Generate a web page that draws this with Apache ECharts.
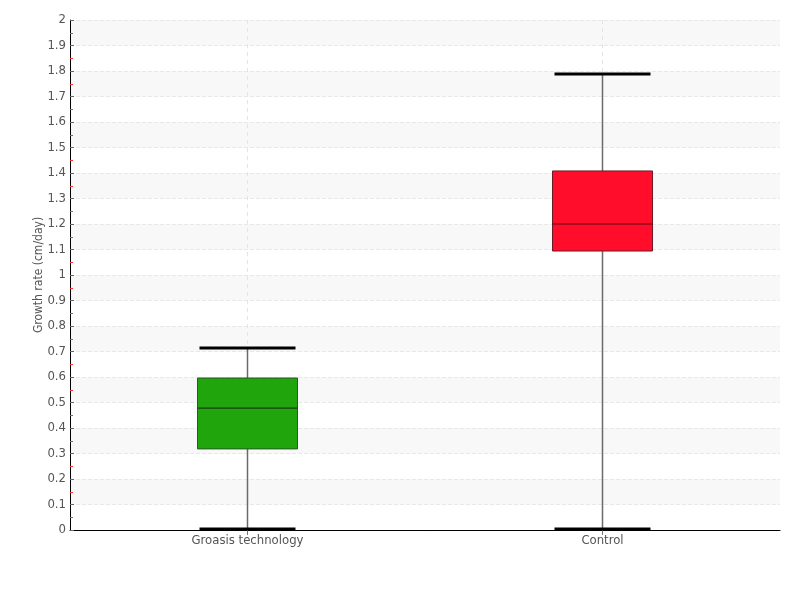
<!DOCTYPE html>
<html>
<head>
<meta charset="utf-8">
<script src="https://cdn.jsdelivr.net/npm/echarts@6/dist/echarts.min.js"></script>
<style>html,body{margin:0;padding:0;background:#fff}#c{width:800px;height:600px}</style>
</head>
<body>
<div id="c"></div>
<script>
var categories = ['Groasis technology', 'Control'];
var mins = [0, 0];
var q1s = [0.318, 1.094];
var medians = [0.478, 1.2];
var q3s = [0.596, 1.408];
var maxs = [0.714, 1.788];
var yMin = 0, yMax = 2;
var boxColors = ['#21a50d', '#ff0d2b'];
var boxBorders = ['#2a5a22', '#6e1a24'];
var medianColors = ['#173f10', '#5a0a14'];

var fontFam = "'DejaVu Sans Condensed','Liberation Sans Narrow','DejaVu Sans',sans-serif";

var data = categories.map(function (c, i) {
  return [i, mins[i], q1s[i], medians[i], q3s[i], maxs[i]];
});

var chart = echarts.init(document.getElementById('c'));
chart.setOption({
  animation: false,
  backgroundColor: '#ffffff',
  grid: { left: 70, right: 20, top: 20, bottom: 70 },
  xAxis: {
    type: 'category',
    data: categories,
    boundaryGap: true,
    axisLine: { lineStyle: { color: '#000', width: 1 } },
    axisTick: { show: true, alignWithLabel: true, length: 5, lineStyle: { color: '#777' } },
    axisLabel: { color: '#555', fontSize: 13, fontFamily: fontFam, margin: 4 },
    splitLine: { show: false }
  },
  yAxis: {
    type: 'value',
    min: yMin, max: yMax, interval: 0.1,
    name: 'Growth rate (cm/day)',
    nameLocation: 'middle',
    nameGap: 25,
    nameMoveOverlap: false,
    nameTextStyle: { color: '#555', fontSize: 12, fontFamily: fontFam },
    axisLine: { show: true, lineStyle: { color: '#000', width: 1 } },
    axisTick: { show: true, inside: true, length: 4, lineStyle: { color: '#666' } },
    minorTick: { show: true, splitNumber: 2, length: 3, lineStyle: { color: '#ff3030' } },
    axisLabel: { color: '#555', fontSize: 13, fontFamily: fontFam, margin: 4 },
    splitLine: { show: true, lineStyle: { color: '#e8e8e8', type: 'dashed' } },
    splitArea: { show: true, areaStyle: { color: ['#ffffff', '#f8f8f8'] } }
  },
  series: [{
    type: 'custom',
    data: data,
    encode: { x: 0, y: [1, 2, 3, 4, 5] },
    clip: false,
    renderItem: function (params, api) {
      var i = api.value(0);
      var bw = 100, cw = 96;
      var pTop = api.coord([i, yMax]);
      var pBot = api.coord([i, yMin]);
      var pMin = api.coord([i, api.value(1)]);
      var pQ1 = api.coord([i, api.value(2)]);
      var pMed = api.coord([i, api.value(3)]);
      var pQ3 = api.coord([i, api.value(4)]);
      var pMax = api.coord([i, api.value(5)]);
      var x = pQ1[0];
      return {
        type: 'group',
        children: [
          { type: 'line', shape: { x1: x, y1: pTop[1], x2: x, y2: pBot[1] }, style: { stroke: '#e4e4e4', lineWidth: 1, lineDash: [4, 4] } },
          { type: 'line', shape: { x1: x, y1: pMin[1], x2: x, y2: pQ1[1] }, style: { stroke: '#6a6a6a', lineWidth: 1.5 } },
          { type: 'line', shape: { x1: x, y1: pQ3[1], x2: x, y2: pMax[1] }, style: { stroke: '#6a6a6a', lineWidth: 1.5 } },
          { type: 'rect', shape: { x: x - bw / 2, y: pQ3[1], width: bw, height: pQ1[1] - pQ3[1] },
            style: { fill: boxColors[i], stroke: boxBorders[i], lineWidth: 1 } },
          { type: 'line', shape: { x1: x - bw / 2, y1: pMed[1], x2: x + bw / 2, y2: pMed[1] }, style: { stroke: medianColors[i], lineWidth: 1.2 } },
          { type: 'line', shape: { x1: x - cw / 2, y1: pMax[1], x2: x + cw / 2, y2: pMax[1] }, style: { stroke: '#000', lineWidth: 3 } },
          { type: 'line', shape: { x1: x - cw / 2, y1: pMin[1] - 1, x2: x + cw / 2, y2: pMin[1] - 1 }, style: { stroke: '#000', lineWidth: 3 } }
        ]
      };
    }
  }]
});
</script>
</body>
</html>
